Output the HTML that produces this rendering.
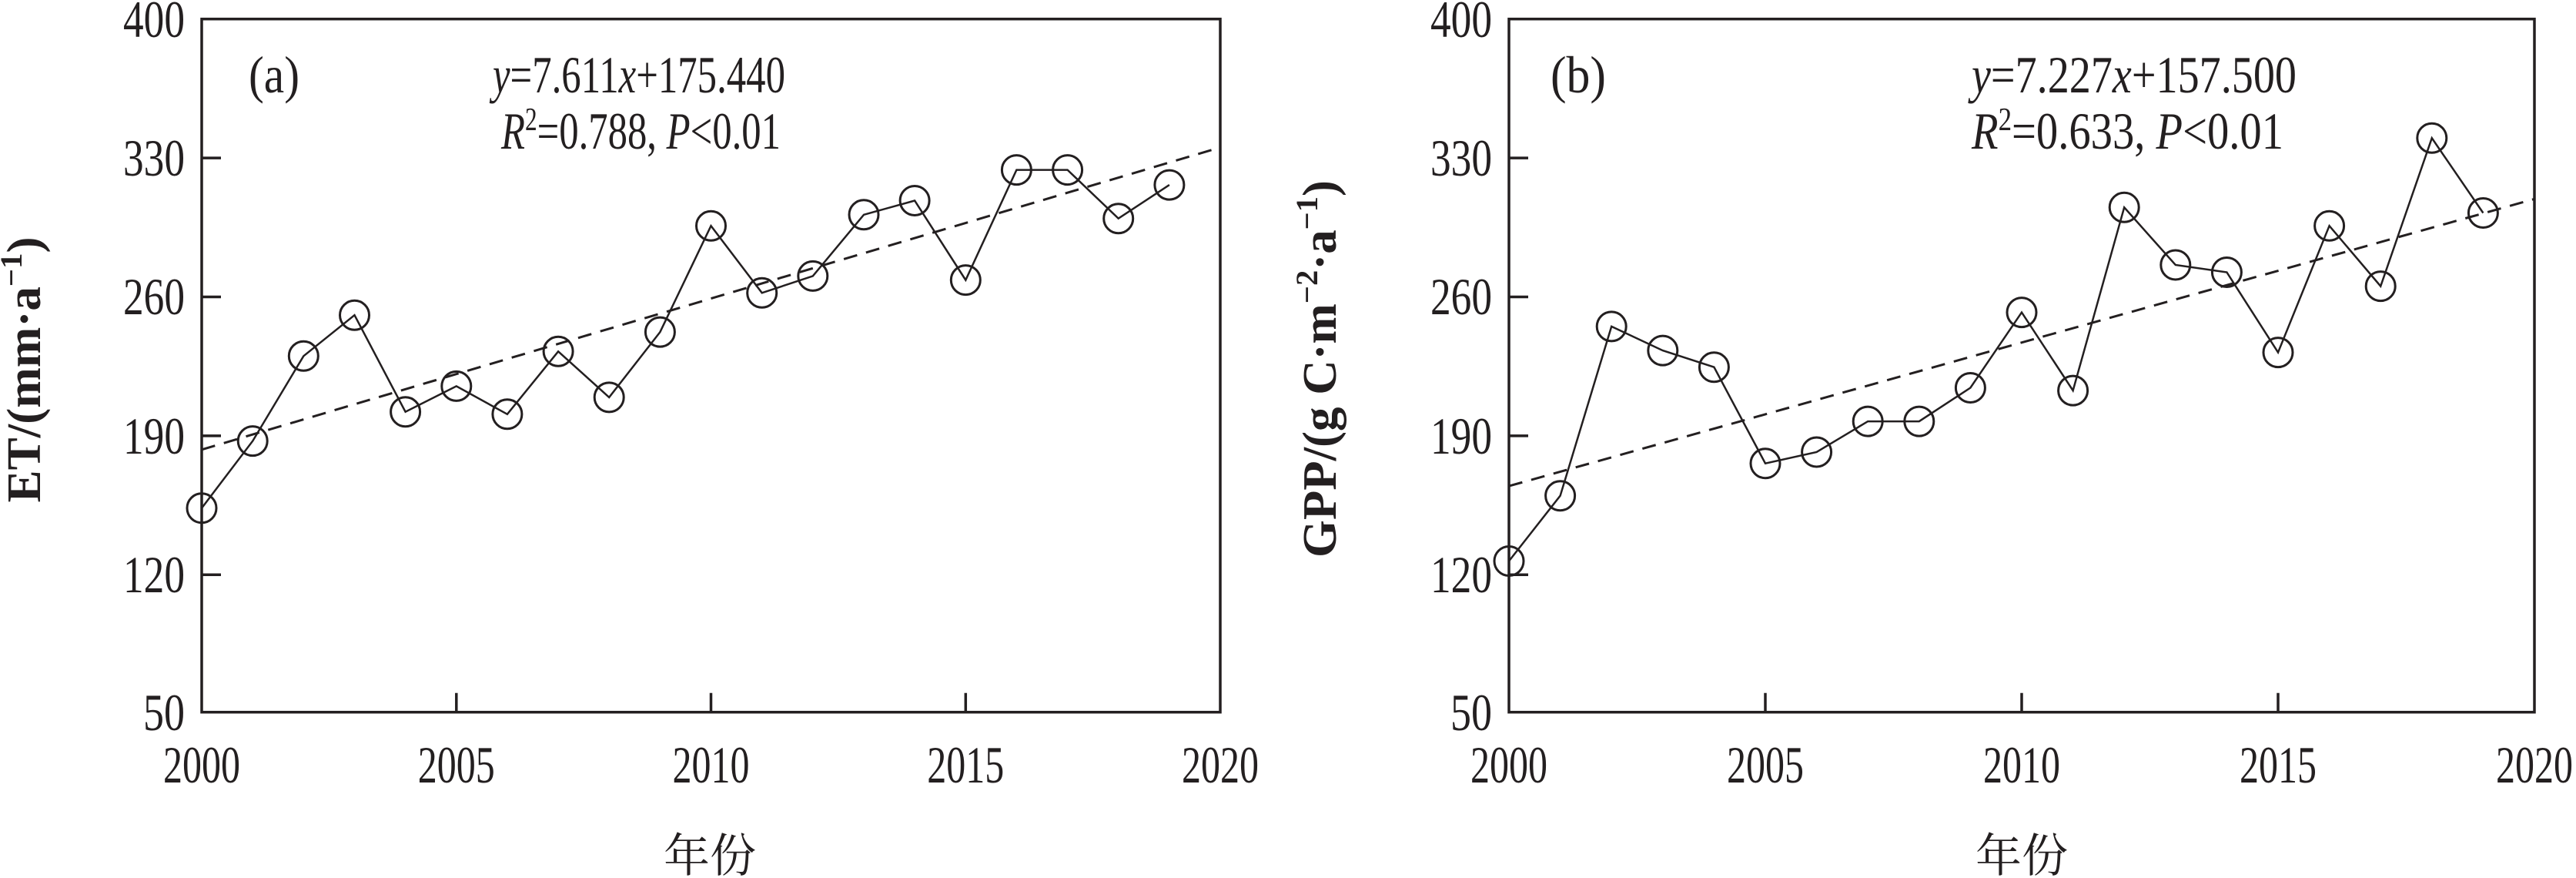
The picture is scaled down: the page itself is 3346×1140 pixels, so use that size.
<!DOCTYPE html>
<html><head><meta charset="utf-8"><style>
html,body{margin:0;padding:0;background:#fff;}
svg{display:block;}
text{font-family:"Liberation Serif","Noto Serif CJK SC",serif;fill:#231f20;}
</style></head><body>
<svg width="3346" height="1140" viewBox="0 0 3346 1140" xmlns="http://www.w3.org/2000/svg">
<g stroke="#231f20" fill="none">
<rect x="262" y="24.7" width="1323" height="900" stroke-width="3.5"/>
<path d="M262 205.1h25M262 385.5h25M262 565.9h25M262 746.3h25M592.8 924.7v-25M923.5 924.7v-25M1254.3 924.7v-25" stroke-width="3.5"/>
<line x1="262" y1="583.8" x2="1585" y2="191.4" stroke-width="3" stroke-dasharray="18 12"/>
<polyline stroke-width="2.5" points="262,659.7 328.2,572.6 394.3,462.3 460.5,409.2 526.6,534.7 592.8,501.4 658.9,537.8 725.1,456.3 791.2,515.9 857.4,431.1 923.5,293.2 989.7,380.3 1055.8,358.4 1122,278.8 1188.1,260.5 1254.3,363.6 1320.4,220.6 1386.6,220.6 1452.7,283.7 1518.9,240.1"/>
<g stroke-width="3">
<circle cx="262" cy="659.7" r="19"/><circle cx="328.2" cy="572.6" r="19"/><circle cx="394.3" cy="462.3" r="19"/><circle cx="460.5" cy="409.2" r="19"/><circle cx="526.6" cy="534.7" r="19"/><circle cx="592.8" cy="501.4" r="19"/><circle cx="658.9" cy="537.8" r="19"/><circle cx="725.1" cy="456.3" r="19"/><circle cx="791.2" cy="515.9" r="19"/><circle cx="857.4" cy="431.1" r="19"/><circle cx="923.5" cy="293.2" r="19"/><circle cx="989.7" cy="380.3" r="19"/><circle cx="1055.8" cy="358.4" r="19"/><circle cx="1122" cy="278.8" r="19"/><circle cx="1188.1" cy="260.5" r="19"/><circle cx="1254.3" cy="363.6" r="19"/><circle cx="1320.4" cy="220.6" r="19"/><circle cx="1386.6" cy="220.6" r="19"/><circle cx="1452.7" cy="283.7" r="19"/><circle cx="1518.9" cy="240.1" r="19"/>
</g>
<rect x="1960" y="24.7" width="1332" height="900" stroke-width="3.5"/>
<path d="M1960 205.1h25M1960 385.5h25M1960 565.9h25M1960 746.3h25M2293 924.7v-25M2626 924.7v-25M2959 924.7v-25" stroke-width="3.5"/>
<line x1="1960" y1="631.1" x2="3292" y2="258.4" stroke-width="3" stroke-dasharray="18 12"/>
<polyline stroke-width="2.5" points="1960,728.5 2026.6,643.7 2093.2,423.9 2159.8,455.1 2226.4,476.7 2293,601.7 2359.6,587 2426.2,547.1 2492.8,547.1 2559.4,503.5 2626,405.6 2692.6,507.1 2759.2,269.3 2825.8,344 2892.4,353.5 2959,457.6 3025.6,293.2 3092.2,371.6 3158.8,179.3 3225.4,276.5"/>
<g stroke-width="3">
<circle cx="1960" cy="728.5" r="19"/><circle cx="2026.6" cy="643.7" r="19"/><circle cx="2093.2" cy="423.9" r="19"/><circle cx="2159.8" cy="455.1" r="19"/><circle cx="2226.4" cy="476.7" r="19"/><circle cx="2293" cy="601.7" r="19"/><circle cx="2359.6" cy="587" r="19"/><circle cx="2426.2" cy="547.1" r="19"/><circle cx="2492.8" cy="547.1" r="19"/><circle cx="2559.4" cy="503.5" r="19"/><circle cx="2626" cy="405.6" r="19"/><circle cx="2692.6" cy="507.1" r="19"/><circle cx="2759.2" cy="269.3" r="19"/><circle cx="2825.8" cy="344" r="19"/><circle cx="2892.4" cy="353.5" r="19"/><circle cx="2959" cy="457.6" r="19"/><circle cx="3025.6" cy="293.2" r="19"/><circle cx="3092.2" cy="371.6" r="19"/><circle cx="3158.8" cy="179.3" r="19"/><circle cx="3225.4" cy="276.5" r="19"/>
</g>
</g>

<g font-size="68">
<g text-anchor="end" lengthAdjust="spacingAndGlyphs">
<text x="240" y="48" textLength="80" lengthAdjust="spacingAndGlyphs">400</text><text x="240" y="228" textLength="80" lengthAdjust="spacingAndGlyphs">330</text><text x="240" y="408" textLength="80" lengthAdjust="spacingAndGlyphs">260</text><text x="240" y="589" textLength="80" lengthAdjust="spacingAndGlyphs">190</text><text x="240" y="769" textLength="80" lengthAdjust="spacingAndGlyphs">120</text><text x="240" y="948" textLength="54" lengthAdjust="spacingAndGlyphs">50</text>
<text x="1938" y="48" textLength="80" lengthAdjust="spacingAndGlyphs">400</text><text x="1938" y="228" textLength="80" lengthAdjust="spacingAndGlyphs">330</text><text x="1938" y="408" textLength="80" lengthAdjust="spacingAndGlyphs">260</text><text x="1938" y="589" textLength="80" lengthAdjust="spacingAndGlyphs">190</text><text x="1938" y="769" textLength="80" lengthAdjust="spacingAndGlyphs">120</text><text x="1938" y="948" textLength="54" lengthAdjust="spacingAndGlyphs">50</text>
</g>
<g text-anchor="middle">
<text x="262" y="1016" textLength="100" lengthAdjust="spacingAndGlyphs">2000</text><text x="592.8" y="1016" textLength="100" lengthAdjust="spacingAndGlyphs">2005</text><text x="923.5" y="1016" textLength="100" lengthAdjust="spacingAndGlyphs">2010</text><text x="1254.3" y="1016" textLength="100" lengthAdjust="spacingAndGlyphs">2015</text><text x="1585" y="1016" textLength="100" lengthAdjust="spacingAndGlyphs">2020</text>
<text x="1960" y="1016" textLength="100" lengthAdjust="spacingAndGlyphs">2000</text><text x="2293" y="1016" textLength="100" lengthAdjust="spacingAndGlyphs">2005</text><text x="2626" y="1016" textLength="100" lengthAdjust="spacingAndGlyphs">2010</text><text x="2959" y="1016" textLength="100" lengthAdjust="spacingAndGlyphs">2015</text><text x="3292" y="1016" textLength="100" lengthAdjust="spacingAndGlyphs">2020</text>
<text x="922" y="1132" font-size="60">年份</text>
<text x="2626" y="1132" font-size="60">年份</text>
</g>
<text x="640" y="120" textLength="380" lengthAdjust="spacingAndGlyphs"><tspan font-style="italic">y</tspan>=7.611<tspan font-style="italic">x</tspan>+175.440</text>
<text x="651" y="193" textLength="363" lengthAdjust="spacingAndGlyphs"><tspan font-style="italic">R</tspan><tspan font-size="42" dy="-24">2</tspan><tspan dy="24">=0.788, </tspan><tspan font-style="italic">P</tspan>&lt;0.01</text>
<text x="2561" y="120" textLength="422" lengthAdjust="spacingAndGlyphs"><tspan font-style="italic">y</tspan>=7.227<tspan font-style="italic">x</tspan>+157.500</text>
<text x="2561" y="193" textLength="405" lengthAdjust="spacingAndGlyphs"><tspan font-style="italic">R</tspan><tspan font-size="42" dy="-24">2</tspan><tspan dy="24">=0.633, </tspan><tspan font-style="italic">P</tspan>&lt;0.01</text>
<text x="323" y="120" textLength="66" lengthAdjust="spacingAndGlyphs">(a)</text>
<text x="2014" y="120" textLength="72" lengthAdjust="spacingAndGlyphs">(b)</text>
<text transform="translate(52,480) rotate(-90)" text-anchor="middle" font-weight="bold" font-size="62" textLength="345" lengthAdjust="spacingAndGlyphs">ET/(mm·a<tspan font-size="40" dy="-24">−1</tspan><tspan dy="24">)</tspan></text>
<text transform="translate(1735,479) rotate(-90)" text-anchor="middle" font-weight="bold" font-size="62" textLength="490" lengthAdjust="spacingAndGlyphs">GPP/(g C·m<tspan font-size="40" dy="-24">−2</tspan><tspan dy="24">·a</tspan><tspan font-size="40" dy="-24">−1</tspan><tspan dy="24">)</tspan></text>
</g>
</svg>
</body></html>
